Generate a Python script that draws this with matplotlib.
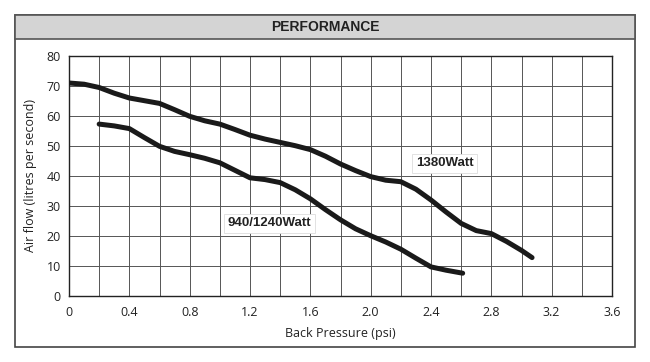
import matplotlib.pyplot as plt
from matplotlib.patches import Rectangle
from matplotlib.ticker import MultipleLocator

# 1380Watt curve
pressure_1380 = [0.0, 0.1, 0.2, 0.3, 0.4, 0.5, 0.6, 0.7, 0.8, 0.9, 1.0,
                 1.1, 1.2, 1.3, 1.4, 1.5, 1.6, 1.7, 1.8, 1.9, 2.0, 2.1,
                 2.2, 2.3, 2.4, 2.5, 2.6, 2.7, 2.8, 2.9, 3.0, 3.07]
flow_1380 = [71, 70.6, 69.5, 67.6, 66, 65.1, 64.2, 62.1, 59.9, 58.4, 57.3,
             55.5, 53.6, 52.3, 51.2, 50.1, 48.8, 46.6, 44, 41.8, 39.8, 38.6,
             38.1, 35.6, 32, 28, 24.2, 21.8, 20.8, 18.2, 15.2, 12.8]

# 940/1240Watt curve
pressure_1240 = [0.2, 0.3, 0.4, 0.5, 0.6, 0.7, 0.8, 0.9, 1.0, 1.1, 1.2,
                 1.3, 1.4, 1.5, 1.6, 1.7, 1.8, 1.9, 2.0, 2.1, 2.2, 2.3,
                 2.4, 2.5, 2.61]
flow_1240 = [57.3, 56.7, 55.8, 52.8, 49.9, 48.2, 47.1, 45.9, 44.4, 41.9, 39.4,
             38.8, 37.8, 35.4, 32.4, 28.8, 25.4, 22.4, 20.1, 18, 15.6, 12.6,
             9.7, 8.6, 7.6]

labels = ["1380Watt", "940/1240Watt"]
label_pos = [(2.49, 44.3), (1.33, 24.3)]

x_ticks = [0, 0.4, 0.8, 1.2, 1.6, 2.0, 2.4, 2.8, 3.2, 3.6]
x_tick_labels = ["0", "0.4", "0.8", "1.2", "1.6", "2.0", "2.4", "2.8", "3.2", "3.6"]


def main():
    plt.rcParams['font.family'] = ['Open Sans', 'DejaVu Sans']
    fig = plt.figure(figsize=(6.5, 3.62), dpi=100)

    # outer frame and title band (behind the axes)
    fig.patches.append(Rectangle((15 / 650, 1 - 347 / 362), 620 / 650, 332 / 362,
                                 transform=fig.transFigure, facecolor="white",
                                 edgecolor="#444444", lw=1.2, zorder=-2))
    fig.patches.append(Rectangle((15 / 650, 1 - 39 / 362), 620 / 650, 24 / 362,
                                 transform=fig.transFigure, facecolor="#d4d4d4",
                                 edgecolor="#555555", lw=1.2, zorder=-1))
    fig.text(325 / 650, 1 - 27 / 362, "PERFORMANCE", ha="center", va="center",
             fontsize=10, fontweight="bold", family="Liberation Sans", color="#222222")

    ax = fig.add_axes([69 / 650, 66 / 362, 543 / 650, 240 / 362])
    ax.plot(pressure_1380, flow_1380, color="#1a1a1a", lw=3.6, solid_capstyle="round",
            solid_joinstyle="round", zorder=3)
    ax.plot(pressure_1240, flow_1240, color="#1a1a1a", lw=3.6, solid_capstyle="round",
            solid_joinstyle="round", zorder=3)

    for text, (x, y) in zip(labels, label_pos):
        ax.text(x, y, text, ha="center", va="center", fontsize=9.5, fontweight="bold",
                family="Liberation Sans", color="#222222", zorder=4,
                bbox=dict(facecolor="white", edgecolor="#dddddd", lw=0.6, pad=2.5))

    ax.set_xlim(0, 3.6)
    ax.set_ylim(0, 80)
    ax.set_xticks(x_ticks)
    ax.set_xticklabels(x_tick_labels)
    ax.xaxis.set_minor_locator(MultipleLocator(0.2))
    ax.yaxis.set_major_locator(MultipleLocator(10))
    ax.grid(True, which="both", color="#555555", lw=0.7)
    ax.set_axisbelow(True)
    ax.tick_params(which="both", length=0, labelsize=9, colors="#222222")
    ax.tick_params(axis="x", pad=7)
    ax.tick_params(axis="y", pad=6)
    for s in ax.spines.values():
        s.set_color("#222222")
        s.set_linewidth(1.0)

    ax.set_xlabel("Back Pressure (psi)", fontsize=9, color="#222222", labelpad=6)
    ax.set_ylabel("Air flow (litres per second)", fontsize=9, color="#222222", labelpad=7)

    fig.savefig("out.png", dpi=100)


if __name__ == "__main__":
    main()
